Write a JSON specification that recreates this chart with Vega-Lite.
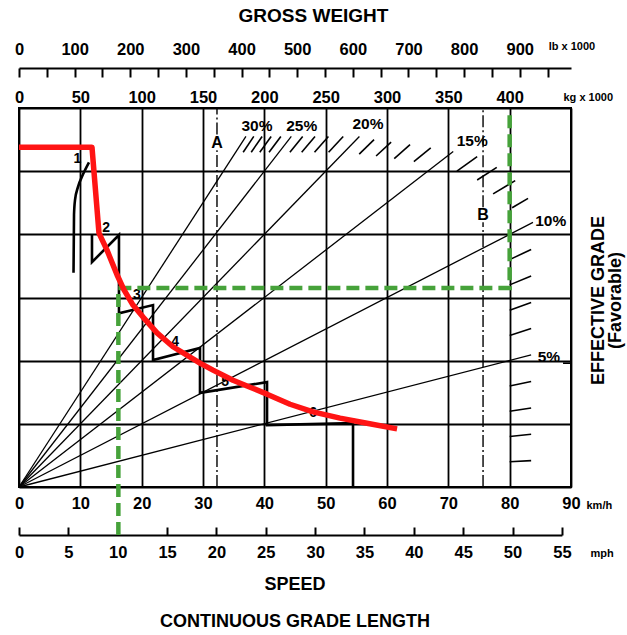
{
  "$schema": "https://vega.github.io/schema/vega-lite/v6.json",
  "width": 552,
  "height": 379,
  "autosize": {"type": "none"},
  "padding": {"left": 19, "top": 108, "right": 56, "bottom": 148},
  "background": "white",
  "config": {
    "view": {"stroke": "black", "strokeWidth": 2},
    "font": "Liberation Sans, Arial, sans-serif",
    "axis": {"labelFont": "Liberation Sans, Arial, sans-serif", "labelFontWeight": "bold", "labelColor": "black", "titleFont": "Liberation Sans, Arial, sans-serif", "titleFontWeight": "bold", "titleColor": "black", "domainColor": "black", "tickColor": "black", "labelOverlap": false, "labelFlush": false}
  },
  "title": {
    "text": "SPEED",
    "subtitle": "CONTINUOUS GRADE LENGTH",
    "orient": "bottom",
    "anchor": "middle",
    "font": "Liberation Sans, Arial, sans-serif",
    "fontSize": 18,
    "fontWeight": "bold",
    "color": "black",
    "subtitleFont": "Liberation Sans, Arial, sans-serif",
    "subtitleFontSize": 18,
    "subtitleFontWeight": "bold",
    "subtitleColor": "black",
    "offset": 15,
    "subtitlePadding": 19
  },
  "datasets": {
    "grades": [
      {"x": 0, "y": 0, "x2": 37.0, "y2": 5.55},
      {"x": 0, "y": 0, "x2": 44.4, "y2": 5.55},
      {"x": 0, "y": 0, "x2": 55.5, "y2": 5.55},
      {"x": 0, "y": 0, "x2": 70.8, "y2": 5.31},
      {"x": 0, "y": 0, "x2": 83.8, "y2": 4.19},
      {"x": 0, "y": 0, "x2": 83.5, "y2": 2.09}
    ],
    "hatches": [
      {"x": 36.55, "y": 5.30, "x2": 38.28, "y2": 5.55},
      {"x": 37.86, "y": 5.30, "x2": 39.64, "y2": 5.55},
      {"x": 39.26, "y": 5.30, "x2": 41.11, "y2": 5.55},
      {"x": 40.77, "y": 5.30, "x2": 42.69, "y2": 5.55},
      {"x": 44.17, "y": 5.30, "x2": 46.25, "y2": 5.55},
      {"x": 46.09, "y": 5.30, "x2": 48.26, "y2": 5.55},
      {"x": 48.18, "y": 5.30, "x2": 50.45, "y2": 5.55},
      {"x": 50.48, "y": 5.30, "x2": 52.86, "y2": 5.55},
      {"x": 55.47, "y": 5.27, "x2": 57.89, "y2": 5.50},
      {"x": 58.22, "y": 5.24, "x2": 60.67, "y2": 5.46},
      {"x": 61.18, "y": 5.20, "x2": 63.76, "y2": 5.42},
      {"x": 64.38, "y": 5.15, "x2": 67.13, "y2": 5.37},
      {"x": 71.4, "y": 5.00, "x2": 74.7, "y2": 5.23},
      {"x": 74.7, "y": 4.86, "x2": 77.9, "y2": 5.06},
      {"x": 77.3, "y": 4.64, "x2": 80.9, "y2": 4.85},
      {"x": 80.4, "y": 4.42, "x2": 83.0, "y2": 4.57},
      {"x": 80, "y": 3.6, "x2": 83.5, "y2": 3.76},
      {"x": 80, "y": 3.2, "x2": 83.5, "y2": 3.34},
      {"x": 80, "y": 2.8, "x2": 83.5, "y2": 2.92},
      {"x": 80, "y": 2.4, "x2": 83.5, "y2": 2.51},
      {"x": 80, "y": 1.6, "x2": 83.5, "y2": 1.67},
      {"x": 80, "y": 1.2, "x2": 83.5, "y2": 1.25},
      {"x": 80, "y": 0.8, "x2": 83.5, "y2": 0.835},
      {"x": 80, "y": 0.4, "x2": 83.5, "y2": 0.4175},
      {"x": 88.7, "y": 1.96, "x2": 90, "y2": 1.96}
    ],
    "ab": [
      {"x": 32.28, "y": 0, "x2": 32.28, "y2": 5.33},
      {"x": 32.28, "y": 5.58, "x2": 32.28, "y2": 6},
      {"x": 75.66, "y": 0, "x2": 75.66, "y2": 4.19},
      {"x": 75.66, "y": 4.43, "x2": 75.66, "y2": 6}
    ],
    "steps": [
      {"o": 1, "x": 11.9, "y": 3.99}, {"o": 2, "x": 11.9, "y": 3.56},
      {"o": 3, "x": 16.3, "y": 3.99}, {"o": 4, "x": 16.3, "y": 2.75},
      {"o": 5, "x": 21.85, "y": 2.88}, {"o": 6, "x": 21.85, "y": 2.01},
      {"o": 7, "x": 29.51, "y": 2.20}, {"o": 8, "x": 29.51, "y": 1.49},
      {"o": 9, "x": 40.44, "y": 1.66}, {"o": 10, "x": 40.44, "y": 0.98},
      {"o": 11, "x": 54.46, "y": 1.01}, {"o": 12, "x": 54.46, "y": 0}
    ],
    "gear1": [
      {"o": 1, "x": 8.89, "y": 3.39}, {"o": 2, "x": 8.97, "y": 4.31},
      {"o": 3, "x": 9.13, "y": 4.54}, {"o": 4, "x": 9.62, "y": 4.75},
      {"o": 5, "x": 10.44, "y": 4.95}, {"o": 6, "x": 11.41, "y": 5.14}
    ],
    "red": [
      {"o": 1, "x": 0, "y": 5.38}, {"o": 2, "x": 11.9, "y": 5.38},
      {"o": 3, "x": 13.04, "y": 4.02}, {"o": 4, "x": 14.35, "y": 3.75},
      {"o": 5, "x": 15.98, "y": 3.36}, {"o": 6, "x": 17.12, "y": 3.12},
      {"o": 7, "x": 18.59, "y": 2.88}, {"o": 8, "x": 20.22, "y": 2.69},
      {"o": 9, "x": 22.5, "y": 2.44}, {"o": 10, "x": 25.11, "y": 2.22},
      {"o": 11, "x": 29.51, "y": 1.96}, {"o": 12, "x": 31.63, "y": 1.85},
      {"o": 13, "x": 34.89, "y": 1.69}, {"o": 14, "x": 37.18, "y": 1.6},
      {"o": 15, "x": 40.44, "y": 1.47}, {"o": 16, "x": 44.19, "y": 1.31},
      {"o": 17, "x": 47.94, "y": 1.19}, {"o": 18, "x": 52.34, "y": 1.09},
      {"o": 19, "x": 56.74, "y": 1.01}, {"o": 20, "x": 61.64, "y": 0.92}
    ],
    "green": [
      {"o": 1, "x": 16.2, "y": -0.76}, {"o": 2, "x": 16.2, "y": 3.15},
      {"o": 3, "x": 80, "y": 3.15}, {"o": 4, "x": 80, "y": 5.89}
    ],
    "pct": [
      {"x": 38.8, "y": 5.71, "t": "30%"},
      {"x": 46.1, "y": 5.71, "t": "25%"},
      {"x": 56.9, "y": 5.74, "t": "20%"},
      {"x": 73.9, "y": 5.48, "t": "15%"},
      {"x": 86.7, "y": 4.21, "t": "10%"},
      {"x": 86.4, "y": 2.06, "t": "5%"}
    ],
    "gearlab": [
      {"x": 9.5, "y": 5.19, "t": "1"},
      {"x": 14.2, "y": 4.1, "t": "2"},
      {"x": 19.24, "y": 3.04, "t": "3"},
      {"x": 25.44, "y": 2.3, "t": "4"},
      {"x": 33.59, "y": 1.66, "t": "5"},
      {"x": 47.94, "y": 1.17, "t": "6"}
    ],
    "ablab": [
      {"x": 32.28, "y": 5.45, "t": "A"},
      {"x": 75.66, "y": 4.31, "t": "B"}
    ]
  },
  "layer": [
    {
      "layer": [
        {
          "data": {"name": "grades"},
          "mark": {"type": "rule", "color": "black", "strokeWidth": 1.3},
          "encoding": {
            "x": {"field": "x", "type": "quantitative", "scale": {"domain": [0, 90], "nice": false, "zero": false},
              "axis": {"orient": "bottom", "values": [0, 10, 20, 30, 40, 50, 60, 70, 80, 90], "grid": true, "gridColor": "black", "gridWidth": 1.8, "gridOpacity": 1, "ticks": false, "domain": false, "labelFontSize": 16.5, "labelPadding": 8, "title": "km/h", "titleX": 567, "titleY": 18, "titleAlign": "left", "titleBaseline": "middle", "titleFontSize": 11, "titleAngle": 0}},
            "y": {"field": "y", "type": "quantitative", "scale": {"domain": [0, 6], "nice": false, "zero": false},
              "axis": {"orient": "right", "values": [0, 1, 2, 3, 4, 5, 6], "grid": true, "gridColor": "black", "gridWidth": 1.8, "gridOpacity": 1, "labels": false, "ticks": false, "domain": false, "title": ["EFFECTIVE GRADE", "(Favorable)"], "titleAngle": -90, "titleX": 27, "titleY": 192, "titleAlign": "center", "titleBaseline": "middle", "titleFontSize": 18, "titleLineHeight": 17}},
            "x2": {"field": "x2"},
            "y2": {"field": "y2"}
          }
        },
        {
          "data": {"name": "hatches"},
          "mark": {"type": "rule", "color": "black", "strokeWidth": 1.6},
          "encoding": {
            "x": {"field": "x", "type": "quantitative"},
            "y": {"field": "y", "type": "quantitative", "scale": {"domain": [0, 6], "nice": false, "zero": false}},
            "x2": {"field": "x2"},
            "y2": {"field": "y2"}
          }
        },
        {
          "data": {"name": "ab"},
          "mark": {"type": "rule", "color": "black", "strokeWidth": 1.4, "strokeDash": [12, 3, 2, 3]},
          "encoding": {
            "x": {"field": "x", "type": "quantitative"},
            "y": {"field": "y", "type": "quantitative", "scale": {"domain": [0, 6], "nice": false, "zero": false}},
            "x2": {"field": "x2"},
            "y2": {"field": "y2"}
          }
        },
        {
          "data": {"name": "steps"},
          "mark": {"type": "line", "color": "black", "strokeWidth": 2.6},
          "encoding": {
            "x": {"field": "x", "type": "quantitative"},
            "y": {"field": "y", "type": "quantitative", "scale": {"domain": [0, 6], "nice": false, "zero": false}},
            "order": {"field": "o"}
          }
        },
        {
          "data": {"name": "gear1"},
          "mark": {"type": "line", "color": "black", "strokeWidth": 2.6, "interpolate": "monotone"},
          "encoding": {
            "x": {"field": "x", "type": "quantitative"},
            "y": {"field": "y", "type": "quantitative", "scale": {"domain": [0, 6], "nice": false, "zero": false}},
            "order": {"field": "o"}
          }
        },
        {
          "data": {"name": "pct"},
          "mark": {"type": "text", "color": "black", "fontSize": 15.5, "fontWeight": "bold", "font": "Liberation Sans, Arial, sans-serif"},
          "encoding": {
            "x": {"field": "x", "type": "quantitative"},
            "y": {"field": "y", "type": "quantitative", "scale": {"domain": [0, 6], "nice": false, "zero": false}},
            "text": {"field": "t"}
          }
        },
        {
          "data": {"name": "gearlab"},
          "mark": {"type": "text", "color": "black", "fontSize": 14, "fontWeight": "bold", "font": "Liberation Sans, Arial, sans-serif"},
          "encoding": {
            "x": {"field": "x", "type": "quantitative"},
            "y": {"field": "y", "type": "quantitative", "scale": {"domain": [0, 6], "nice": false, "zero": false}},
            "text": {"field": "t"}
          }
        },
        {
          "data": {"name": "ablab"},
          "mark": {"type": "text", "color": "black", "fontSize": 16, "fontWeight": "bold", "font": "Liberation Sans, Arial, sans-serif"},
          "encoding": {
            "x": {"field": "x", "type": "quantitative"},
            "y": {"field": "y", "type": "quantitative", "scale": {"domain": [0, 6], "nice": false, "zero": false}},
            "text": {"field": "t"}
          }
        },
        {
          "data": {"name": "green"},
          "mark": {"type": "line", "color": "#46a23a", "strokeWidth": 4.5, "strokeDash": [13, 6]},
          "encoding": {
            "x": {"field": "x", "type": "quantitative"},
            "y": {"field": "y", "type": "quantitative", "scale": {"domain": [0, 6], "nice": false, "zero": false}},
            "order": {"field": "o"}
          }
        },
        {
          "data": {"name": "red"},
          "mark": {"type": "line", "color": "#ff1414", "strokeWidth": 5.5, "strokeJoin": "round"},
          "encoding": {
            "x": {"field": "x", "type": "quantitative"},
            "y": {"field": "y", "type": "quantitative", "scale": {"domain": [0, 6], "nice": false, "zero": false}},
            "order": {"field": "o"}
          }
        }
      ]
    },
    {
      "data": {"values": [{"mph": 0}]},
      "mark": {"type": "point", "opacity": 0},
      "encoding": {
        "x": {"field": "mph", "type": "quantitative", "scale": {"domain": [0, 55], "range": [0, 542.9], "nice": false, "zero": false},
          "axis": {"orient": "bottom", "offset": 48, "values": [0, 5, 10, 15, 20, 25, 30, 35, 40, 45, 50, 55], "grid": false, "domain": true, "domainWidth": 2, "ticks": true, "tickSize": -8, "tickWidth": 2, "labelFontSize": 16.5, "labelPadding": 17, "title": "mph", "titleX": 571, "titleY": 18, "titleAlign": "left", "titleBaseline": "middle", "titleFontSize": 11, "titleAngle": 0}}
      }
    },
    {
      "data": {"values": [{"kg": 0}]},
      "mark": {"type": "point", "opacity": 0},
      "encoding": {
        "x": {"field": "kg", "type": "quantitative", "scale": {"domain": [0, 450], "nice": false, "zero": false},
          "axis": {"orient": "top", "offset": 0, "values": [0, 50, 100, 150, 200, 250, 300, 350, 400], "grid": false, "domain": false, "ticks": false, "labelFontSize": 16.5, "labelPadding": 3, "title": "kg x 1000", "titleX": 544, "titleY": -11, "titleAlign": "left", "titleBaseline": "middle", "titleFontSize": 11, "titleAngle": 0}}
      }
    },
    {
      "data": {"values": [{"lb": 952, "y": 6.965, "t": "lb x 1000"}]},
      "mark": {"type": "text", "color": "black", "fontSize": 11, "fontWeight": "bold", "align": "left", "baseline": "middle", "font": "Liberation Sans, Arial, sans-serif"},
      "encoding": {
        "x": {"field": "lb", "type": "quantitative", "scale": {"domain": [0, 992.08], "nice": false, "zero": false},
          "axis": {"orient": "top", "offset": 40, "values": [0, 50, 100, 150, 200, 250, 300, 350, 400, 450, 500, 550, 600, 650, 700, 750, 800, 850, 900, 950], "labelExpr": "datum.value % 100 === 0 ? datum.label : ''", "grid": false, "domain": true, "domainWidth": 2, "ticks": true, "tickSize": -9, "tickWidth": 2, "labelFontSize": 16.5, "labelPadding": 20, "title": "GROSS WEIGHT", "titleX": 294, "titleY": -53, "titleAlign": "center", "titleBaseline": "middle", "titleFontSize": 19, "titleAngle": 0}},
        "y": {"field": "y", "type": "quantitative", "scale": {"domain": [0, 6], "nice": false, "zero": false}},
        "text": {"field": "t"}
      }
    }
  ],
  "resolve": {"scale": {"x": "independent"}, "axis": {"x": "independent"}}
}
